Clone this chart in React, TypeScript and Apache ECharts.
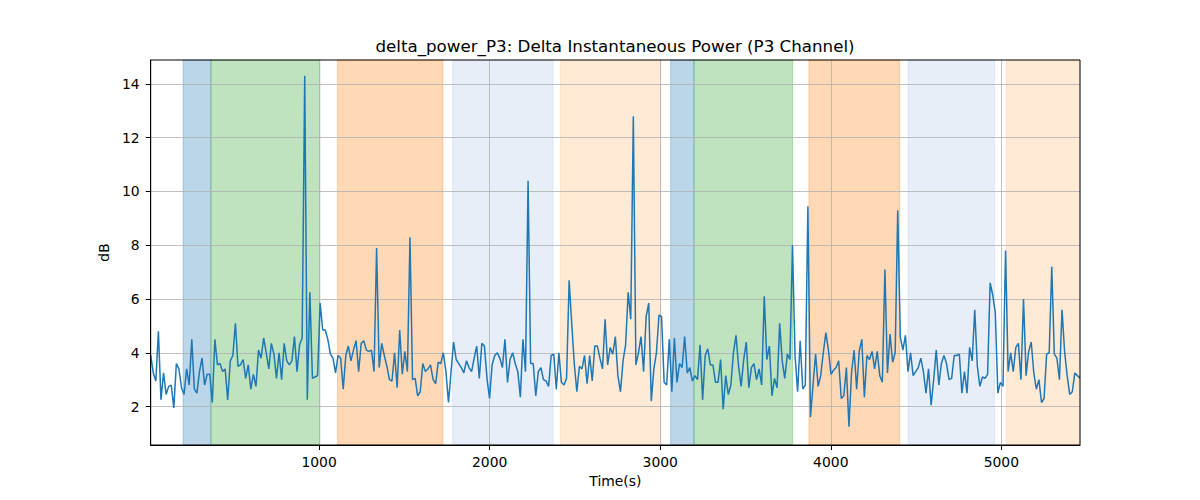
import { useEffect, useRef } from 'react'
import * as echarts from 'echarts'

// sample range in seconds, samples are evenly spaced
const TIME_FIRST = 13
const TIME_LAST = 5461

// delta instantaneous power of the P3 channel, dB
const POWER_DB = [
  3.9, 3.25, 2.95, 4.8, 2.25, 3.25, 2.45, 2.75, 2.8, 1.95, 3.6, 3.4, 2.7, 2.45, 3.4, 2.8,
  4.5, 2.65, 2.5, 3.3, 3.8, 2.8, 3.2, 3.2, 2.15, 4.5, 3.55, 3.6, 3.3, 3.4, 2.25, 3.7,
  3.9, 5.1, 3.5, 3.55, 3.75, 3.05, 3.55, 2.65, 3.2, 2.75, 4.1, 3.8, 4.55, 4.0, 3.4, 4.35,
  3.95, 3.05, 4.0, 3.0, 4.35, 3.7, 3.55, 3.7, 4.6, 3.3, 4.3, 4.55, 14.3, 2.25, 6.25, 3.05,
  3.1, 3.15, 5.85, 4.85, 4.85, 4.5, 3.95, 3.8, 3.25, 3.9, 3.8, 2.65, 3.9, 4.25, 3.7, 4.1, 4.45,
  3.3, 4.35, 4.45, 4.1, 4.05, 4.1, 3.3, 7.9, 3.45, 4.35, 3.9, 3.5, 3.0, 2.95,
  4.0, 2.7, 4.85, 3.2, 4.05, 3.3, 8.3, 3.0, 3.05, 2.4, 2.55, 3.6, 3.3, 3.4, 3.55, 3.0,
  2.85, 3.65, 3.6, 4.0, 3.3, 2.15, 3.3, 4.4, 3.75, 3.6, 3.45, 3.25, 3.7, 3.45, 3.3, 3.8,
  4.25, 3.05, 4.35, 4.25, 3.05, 2.3, 3.55, 3.9, 4.0, 3.8, 3.45, 4.5, 2.9, 3.75, 4.0,
  3.6, 3.3, 2.35, 4.5, 3.3, 10.4, 3.6, 3.6, 2.4, 3.3, 3.45, 3.0, 2.95, 2.75, 3.9, 3.95,
  2.65, 4.0, 2.9, 2.8, 3.05, 6.7, 5.1, 3.6, 2.55, 3.5, 3.4, 3.9, 2.85, 3.9, 2.95, 4.25,
  4.25, 3.8, 3.4, 5.25, 3.55, 4.2, 3.95, 4.6, 3.15, 2.55, 3.7, 4.3, 6.25, 5.25, 12.8,
  3.55, 4.0, 4.6, 3.3, 5.35, 5.85, 2.2, 3.4, 4.0, 5.4, 5.35, 2.9, 2.8, 4.5, 2.55, 4.55,
  2.9, 3.6, 3.45, 4.6, 3.25, 3.45, 2.95, 3.15, 3.0, 4.3, 2.25, 3.9, 4.15, 3.55, 3.55, 2.9,
  2.9, 3.75, 1.9, 3.15, 2.45, 2.8, 4.0, 4.65, 3.5, 2.75, 3.75, 4.4, 2.7, 3.45, 3.6,
  3.0, 3.4, 2.8, 6.1, 3.75, 4.25, 2.4, 3.05, 2.7, 5.1, 3.7, 3.05, 3.95, 3.75, 8.0, 3.9,
  2.55, 4.45, 2.65, 2.8, 9.45, 1.6, 2.8, 3.95, 2.75, 3.15, 4.0, 4.75, 4.1, 3.2, 3.35, 3.45,
  3.7, 2.3, 2.4, 3.45, 1.25, 3.25, 4.1, 2.65, 4.05, 4.5, 2.35, 3.9, 3.75, 4.05, 3.4,
  4.05, 3.15, 2.9, 7.1, 3.25, 4.7, 3.65, 4.0, 9.3, 4.6, 4.1, 4.65, 3.3, 4.0, 3.15, 3.3,
  3.45, 3.8, 3.3, 2.5, 3.4, 2.05, 3.0, 4.1, 2.8, 3.6, 3.9, 3.6, 3.0, 3.05, 3.9, 3.9,
  3.95, 2.5, 3.3, 2.5, 4.2, 3.7, 5.6, 3.5, 2.75, 3.1, 3.05, 3.2, 6.6, 6.15, 5.5,
  2.5, 2.9, 2.75, 7.8, 3.3, 4.0, 3.3, 4.2, 4.35, 3.0, 6.0, 3.15, 4.05, 4.4, 3.25, 2.65,
  3.0, 2.15, 2.3, 3.95, 4.0, 7.2, 3.95, 3.8, 3.0, 5.6, 4.05, 3.15, 2.45, 2.55, 3.25, 3.15,
  3.05,
]

// shaded phases
const SPAN_START = [203, 366, 1108, 1783, 2415, 3061, 3198, 3872, 4453, 5029]
const SPAN_END = [366, 1005, 1726, 2372, 3004, 3198, 3776, 4404, 4960, 5461]
const SPAN_KIND = ['blue', 'green', 'orange', 'lightblue', 'lightorange', 'blue', 'green', 'orange', 'lightblue', 'lightorange']

const X_TICKS = [1000, 2000, 3000, 4000, 5000]
const Y_TICKS = [2, 4, 6, 8, 10, 12, 14]
const Y_MIN = 0.57
const Y_MAX = 14.89

const KIND_COLOR: Record<string, string> = {
  blue: 'rgba(31,119,180,0.3)',
  green: 'rgba(44,160,44,0.3)',
  orange: 'rgba(255,127,14,0.3)',
  lightblue: 'rgba(174,199,232,0.3)',
  lightorange: 'rgba(255,187,120,0.3)',
}

const FONT = 'DejaVu Sans'

export default function App() {
  const ref = useRef<HTMLDivElement>(null)

  useEffect(() => {
    if (!ref.current) return
    document.body.style.margin = '0'
    const chart = echarts.init(ref.current, null, { renderer: 'svg' })

    const step = (TIME_LAST - TIME_FIRST) / (POWER_DB.length - 1)
    const points = POWER_DB.map((v, i) => [TIME_FIRST + i * step, v])

    const spans = SPAN_START.map((s, i) => {
      const color = KIND_COLOR[SPAN_KIND[i]]
      return [
        { xAxis: s, itemStyle: { color, borderColor: color, borderWidth: 1 } },
        { xAxis: SPAN_END[i] },
      ]
    })

    const gridLines = [
      ...X_TICKS.map((v) => ({ xAxis: v })),
      ...Y_TICKS.map((v) => ({ yAxis: v })),
    ]

    const option: echarts.EChartsOption = {
      animation: false,
      textStyle: { fontFamily: FONT },
      grid: {
        left: 150.7,
        right: 120,
        top: 60,
        bottom: 55,
        show: true,
        borderColor: '#000',
        borderWidth: 1,
        backgroundColor: 'transparent',
        z: 10,
      },
      graphic: [
        {
          type: 'text',
          x: 615,
          y: 46,
          style: {
            text: 'delta_power_P3: Delta Instantaneous Power (P3 Channel)',
            font: `16.7px "${FONT}"`,
            fill: '#000',
            align: 'center',
            verticalAlign: 'middle',
          },
        },
      ],
      xAxis: {
        type: 'value',
        min: TIME_FIRST,
        max: TIME_LAST,
        z: 10,
        name: 'Time(s)',
        nameLocation: 'middle',
        nameGap: 29,
        nameTextStyle: { color: '#000', fontSize: 13.9, fontFamily: FONT },
        axisLine: { show: true, lineStyle: { color: '#000', width: 1 } },
        axisTick: { show: true, length: 5, customValues: X_TICKS, lineStyle: { color: '#000' } },
        axisLabel: {
          color: '#000',
          fontSize: 13.9,
          margin: 10,
          customValues: X_TICKS,
          formatter: (v: number) => String(v),
        },
        splitLine: { show: false },
      },
      yAxis: {
        type: 'value',
        min: Y_MIN,
        max: Y_MAX,
        z: 10,
        name: 'dB',
        nameLocation: 'middle',
        nameGap: 27,
        nameTextStyle: { color: '#000', fontSize: 13.9, fontFamily: FONT },
        axisLine: { show: true, lineStyle: { color: '#000', width: 1 } },
        axisTick: { show: true, length: 5, customValues: Y_TICKS, lineStyle: { color: '#000' } },
        axisLabel: {
          color: '#000',
          fontSize: 13.9,
          margin: 11,
          customValues: Y_TICKS,
          formatter: (v: number) => String(v),
        },
        splitLine: { show: false },
      },
      series: [
        {
          type: 'line',
          name: 'delta_power_P3',
          data: points,
          z: 3,
          showSymbol: false,
          silent: true,
          lineStyle: { color: '#1f77b4', width: 1.5 },
          itemStyle: { color: '#1f77b4' },
          markArea: {
            silent: true,
            z: 1,
            data: spans as any,
          },
          markLine: {
            silent: true,
            z: 2,
            symbol: ['none', 'none'],
            label: { show: false },
            lineStyle: { color: '#b0b0b0', width: 0.8, type: 'solid' },
            data: gridLines as any,
          },
        },
      ],
    }

    chart.setOption(option)
    return () => chart.dispose()
  }, [])

  return <div ref={ref} style={{ width: 1200, height: 500 }} />
}
